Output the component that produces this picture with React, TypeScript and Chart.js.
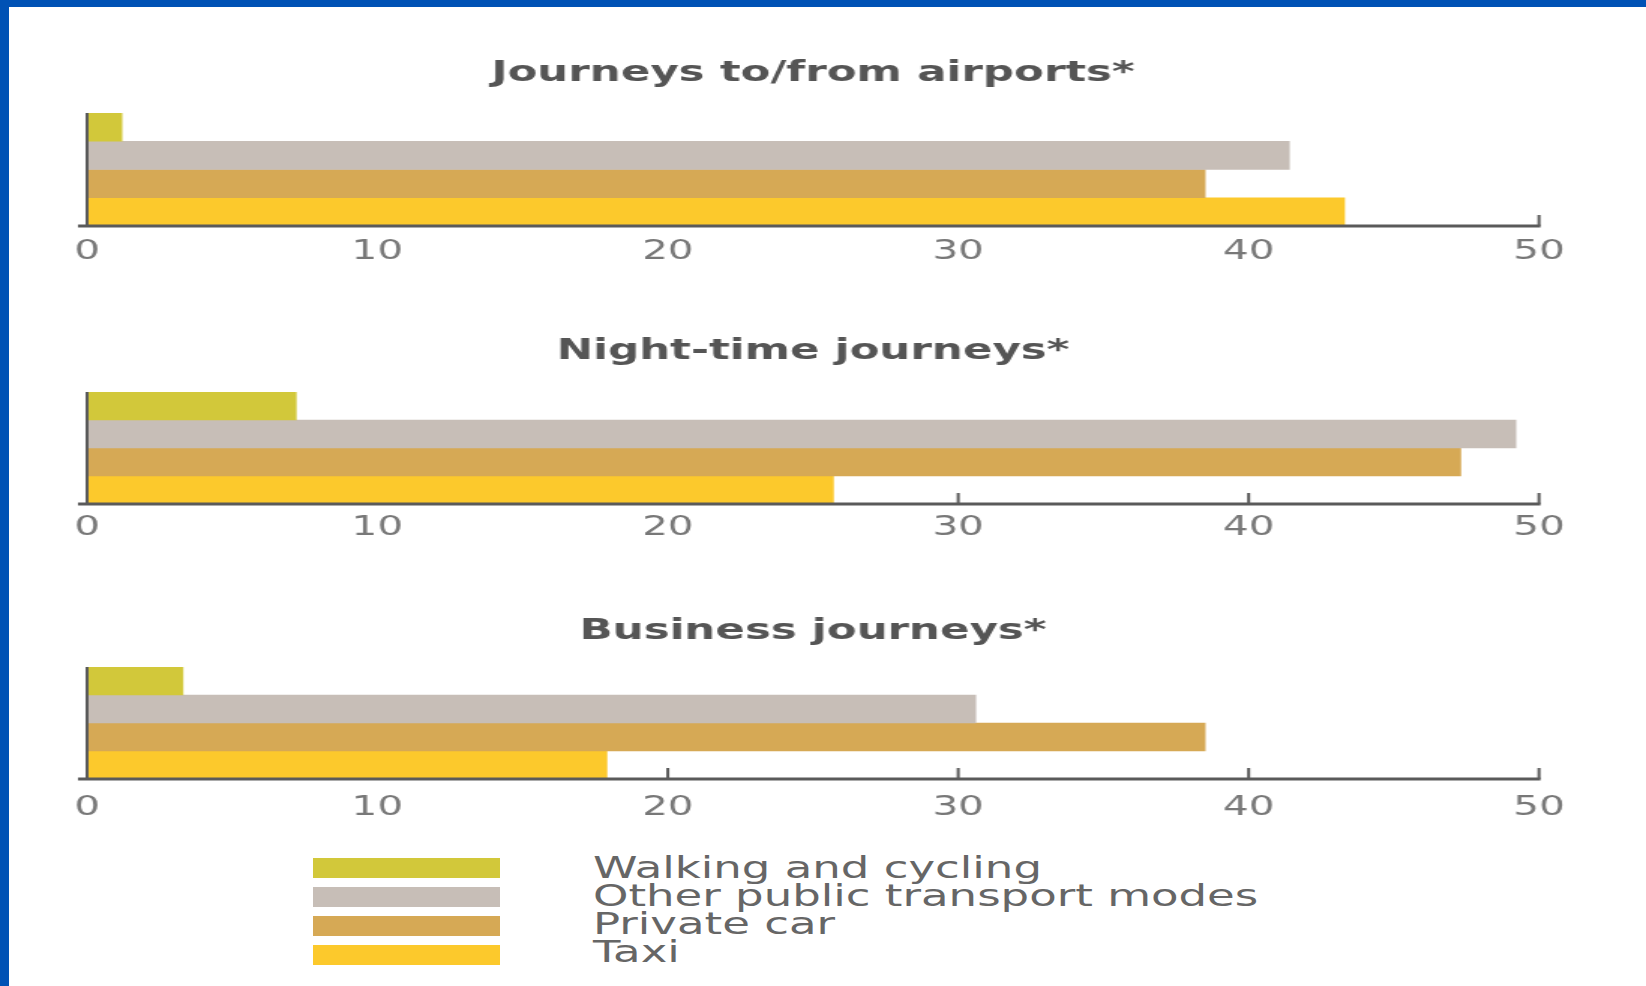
import React, { useEffect, useRef } from "react";
import { Chart, registerables } from "chart.js";

Chart.register(...registerables);

// ---- data ----
const SERIES = ["Walking and cycling", "Other public transport modes", "Private car", "Taxi"];
const TITLES = ["Journeys to/from airports*", "Night-time journeys*", "Business journeys*"];
const AIRPORTS = [1.2, 41.4, 38.5, 43.3];
const NIGHT = [7.2, 49.2, 47.3, 25.7];
const BUSINESS = [3.3, 30.6, 38.5, 17.9];
const X_MIN = 0;
const X_MAX = 50;
const X_STEP = 10;

// ---- styles ----
const COLORS = ["#d2c83a", "#c7beb7", "#d6a955", "#fcc92c"];
const FONT = '"DejaVu Sans", Verdana, sans-serif';
const AXIS_COLOR = "#5a5a5a";
const PAGE_W = 1646;
const PAGE_H = 986;
const W = 1097; // internal canvas width, stretched horizontally by CSS
const SX = PAGE_W / W;
const AREA_LEFT = 87;
const AREA_RIGHT = 1539;
const AXIS_H = 50;
const TITLE_FS = 29;

const PANELS = [
  { title: TITLES[0], values: AIRPORTS, top: 0, titleCenter: 73, areaTop: 113, areaBottom: 226, labelPad: 10 },
  { title: TITLES[1], values: NIGHT, top: 276, titleCenter: 351, areaTop: 392, areaBottom: 504, labelPad: 8 },
  { title: TITLES[2], values: BUSINESS, top: 554, titleCenter: 631, areaTop: 667, areaBottom: 779, labelPad: 13 },
];

const axisPlugin = {
  id: "axisDecor",
  beforeDatasetsDraw(chart: any) {
    const { ctx, chartArea } = chart;
    const x = chart.scales.x;
    ctx.save();
    ctx.strokeStyle = AXIS_COLOR;
    ctx.lineWidth = 2;
    x.ticks.forEach((t: any) => {
      if (t.value === X_MIN) return;
      const px = x.getPixelForValue(t.value);
      ctx.beginPath();
      ctx.moveTo(px, chartArea.bottom);
      ctx.lineTo(px, chartArea.bottom - 11);
      ctx.stroke();
    });
    ctx.restore();
  },
  afterDatasetsDraw(chart: any) {
    const { ctx, chartArea } = chart;
    const x = chart.scales.x;
    ctx.save();
    ctx.strokeStyle = AXIS_COLOR;
    ctx.lineWidth = 3;
    ctx.beginPath();
    ctx.moveTo(chartArea.left - 6, chartArea.bottom);
    ctx.lineTo(x.getPixelForValue(X_MAX) + 1, chartArea.bottom);
    ctx.stroke();
    ctx.lineWidth = 2;
    const zx = x.getPixelForValue(X_MIN);
    ctx.beginPath();
    ctx.moveTo(zx, chartArea.top);
    ctx.lineTo(zx, chartArea.bottom);
    ctx.stroke();
    ctx.restore();
  },
};

function Panel({ p }: { p: any }) {
  const ref = useRef<HTMLCanvasElement>(null);
  const height = p.areaBottom + AXIS_H - p.top;
  useEffect(() => {
    const lh = TITLE_FS * 1.2;
    const padTop = p.titleCenter - p.top - lh / 2;
    const padBottom = p.areaTop - p.top - padTop - lh;
    const chart = new Chart(ref.current as HTMLCanvasElement, {
      type: "bar",
      data: {
        labels: [""],
        datasets: SERIES.map((s, i) => ({
          label: s,
          data: [p.values[i]],
          backgroundColor: COLORS[i],
          borderWidth: 0,
          barPercentage: 1,
          categoryPercentage: 1,
        })),
      },
      options: {
        indexAxis: "y",
        responsive: false,
        animation: false,
        devicePixelRatio: 1,
        layout: {
          padding: { left: AREA_LEFT / SX, right: W - AREA_RIGHT / SX, top: 0, bottom: 0 },
        },
        plugins: {
          legend: { display: false },
          tooltip: { enabled: false },
          title: {
            display: true,
            text: p.title,
            color: "#555555",
            font: { family: FONT, size: TITLE_FS, weight: "bold", lineHeight: 1.2 },
            padding: { top: padTop, bottom: padBottom },
          },
        },
        scales: {
          x: {
            type: "linear",
            position: "bottom",
            min: X_MIN,
            max: X_MAX,
            grid: { display: false, drawTicks: false },
            border: { display: false },
            ticks: {
              stepSize: X_STEP,
              color: "#787878",
              font: { family: FONT, size: 27, lineHeight: 1.2 },
              padding: p.labelPad,
              maxRotation: 0,
            },
            afterFit: (s: any) => {
              s.height = AXIS_H;
            },
          },
          y: { display: false, grid: { display: false } },
        },
      } as any,
      plugins: [axisPlugin],
    });
    return () => chart.destroy();
  }, []);
  return (
    <canvas
      ref={ref}
      width={W}
      height={height}
      style={{ position: "absolute", left: 0, top: p.top, width: PAGE_W, height }}
    />
  );
}

export default function App() {
  return (
    <div
      style={{
        position: "fixed",
        left: 0,
        top: 0,
        width: PAGE_W,
        height: PAGE_H,
        background: "#ffffff",
        overflow: "hidden",
      }}
    >
      {PANELS.map((p, i) => (
        <Panel key={i} p={p} />
      ))}
      {SERIES.map((s, i) => (
        <React.Fragment key={s}>
          <div
            style={{
              position: "absolute",
              left: 313,
              top: 858 + i * 29,
              width: 187,
              height: 20,
              background: COLORS[i],
            }}
          />
          <div
            style={{
              position: "absolute",
              left: 593,
              top: 867 + i * 28 - 16.5,
              fontFamily: FONT,
              fontSize: 30,
              lineHeight: "34px",
              color: "#666666",
              whiteSpace: "nowrap",
              transform: `scaleX(${SX})`,
              transformOrigin: "0 0",
            }}
          >
            {s}
          </div>
        </React.Fragment>
      ))}
      <div style={{ position: "absolute", left: 0, top: 0, width: PAGE_W, height: 7, background: "#0052b5" }} />
      <div style={{ position: "absolute", left: 0, top: 0, width: 9, height: PAGE_H, background: "#0052b5" }} />
    </div>
  );
}
